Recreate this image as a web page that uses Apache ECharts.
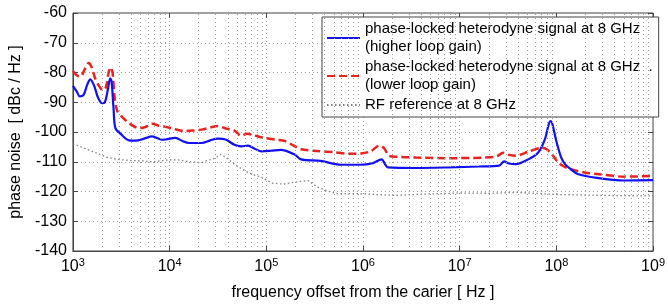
<!DOCTYPE html>
<html>
<head>
<meta charset="utf-8">
<script src="https://cdn.jsdelivr.net/npm/echarts@6/dist/echarts.min.js"></script>
<style>
html,body{margin:0;padding:0;background:#fff;}
#c{width:668px;height:306px;}
</style>
</head>
<body>
<div id="c"></div>
<script>
// ---- data ----
const seriesNames = [
  'phase-locked heterodyne signal at 8 GHz\n(higher loop gain)',
  'phase-locked heterodyne signal at 8 GHz  .\n(lower loop gain)',
  'RF reference at 8 GHz'
];
const yTicks = [-140, -130, -120, -110, -100, -90, -80, -70, -60];
const xDecades = [1e3, 1e4, 1e5, 1e6, 1e7, 1e8, 1e9];

const blueFreq = [1000,1100,1175,1290,1410,1510,1660,1820,2000,2140,2290,2430,2510,2630,2750,3160,3800,4470,5370,6610,8320,11500,13500,15800,21400,26300,31600,38000,46800,55000,64600,75900,89100,112000,141000,195000,229000,363000,589000,933000,1.26e6,1.55e6,1.82e6,3.55e6,7.76e6,1.58e7,2.57e7,2.88e7,3.24e7,3.8e7,5.13e7,6.46e7,7.59e7,8.32e7,8.71e7,9.12e7,1e8,1.12e8,1.23e8,1.41e8,1.66e8,2.63e8,5.01e8,1e9];
const blueVals = [-84.5,-86.5,-88,-87.5,-84,-82.3,-84.5,-88.5,-90.3,-90,-86,-82,-83,-92,-98.7,-100.8,-102.8,-102.9,-102.3,-101.5,-102.6,-102,-103,-103.7,-103.7,-102.8,-102.2,-102.5,-104.3,-104.8,-104.6,-105.6,-106.5,-106.3,-106,-107.5,-109.2,-109.7,-111,-111,-110.5,-109.2,-111.9,-112.1,-111.9,-111.6,-111.3,-109.9,-110.6,-110.8,-109.2,-107,-102.6,-97.5,-96.3,-97.5,-103.1,-108.5,-110.8,-112.5,-114.1,-115.4,-116.3,-116.2];

const redFreq = [1000,1100,1200,1320,1450,1550,1700,1860,2040,2190,2340,2450,2570,2690,2880,3240,3800,4790,5620,6610,7590,8910,11200,14500,17800,21400,26300,31600,38000,46800,55000,63100,75900,95500,126000,155000,190000,229000,339000,501000,708000,955000,1.2e6,1.48e6,1.66e6,1.86e6,2.5e6,3.55e6,7.76e6,1.74e7,2.4e7,2.82e7,3.16e7,3.8e7,5.13e7,7.08e7,7.94e7,8.9e7,1.05e8,1.2e8,1.41e8,1.95e8,2.63e8,5.01e8,1e9];
const redVals = [-79.5,-81,-81.3,-79,-76.8,-78,-82,-84.5,-86,-85,-80,-78.3,-80,-88,-93,-95,-97,-98.7,-98.3,-97.2,-97.8,-98.2,-99,-99.7,-99.5,-99.2,-98.5,-98,-98.8,-99.5,-101.3,-100.6,-101.2,-102,-102.6,-103,-104.5,-105.8,-106.4,-106.8,-107.3,-107.2,-106.5,-104.6,-105.5,-108,-108.4,-108.6,-108.8,-108.6,-108.2,-107,-107.6,-108,-106.6,-105.3,-105.8,-107.3,-110.3,-111.6,-112.5,-113.6,-114.1,-115,-114.8];

const grayFreq = [1000,1050,1320,1740,2240,2880,3980,5250,6610,8320,10500,12300,15800,21400,25100,29500,33900,38000,46800,55000,64600,75900,89100,115000,151000,195000,269000,339000,427000,537000,871000,2.04e6,5.01e6,1e7,2e7,3.98e7,1e8,2e8,5e8,1e9];
const grayVals = [-104,-104.2,-105.5,-107,-108.5,-109.2,-109.6,-109.7,-110,-109.6,-109.3,-109.4,-110,-110.3,-109.5,-108.8,-107.5,-108.5,-110.8,-112.3,-113.6,-114.5,-115.2,-117.2,-117.5,-116.9,-116.3,-118.5,-119.8,-120.7,-120.7,-121.3,-120.8,-120.5,-120.6,-120.3,-121,-121.2,-121.4,-121.5];

const xTitle = 'frequency offset from the carier [ Hz ]';
const yTitle = 'phase noise  [ dBc / Hz ]';

// ---- build ----
const pairs = (f, v) => f.map((x, i) => [x, v[i]]);
const minorFreqs = [];
for (let d = 0; d < xDecades.length - 1; d++) {
  for (let m = 2; m <= 9; m++) minorFreqs.push(m * xDecades[d]);
}
const FONT = 'Arial, "Liberation Sans", sans-serif';
const gridDash = { color: '#9a9a9a', width: 1, type: [1, 3] };

const chart = echarts.init(document.getElementById('c'), null, { renderer: 'canvas' });
chart.setOption({
  animation: false,
  backgroundColor: '#fff',
  textStyle: { fontFamily: FONT, color: '#000' },
  grid: { left: 70, right: 12, top: 13, bottom: 51, show: true, borderColor: '#444', borderWidth: 1, backgroundColor: 'transparent' },
  legend: {
    left: 322, top: 17, orient: 'vertical',
    padding: [3, 6, 3, 4],
    itemWidth: 33, itemHeight: 10, itemGap: 2,
    backgroundColor: '#fff', borderColor: '#444', borderWidth: 1, borderRadius: 0,
    itemStyle: { opacity: 0 },
    textStyle: { fontFamily: FONT, fontSize: 15, color: '#000', lineHeight: 18 },
    data: seriesNames
  },
  xAxis: [{
    type: 'log', logBase: 10, min: xDecades[0], max: xDecades[xDecades.length - 1],
    splitNumber: 6,
    name: xTitle, nameLocation: 'middle', nameGap: 34,
    nameTextStyle: { fontFamily: FONT, fontSize: 16, color: '#000' },
    axisLine: { show: true, lineStyle: { color: '#444', width: 1 } },
    axisTick: { show: true, inside: true, length: 5, lineStyle: { color: '#444' } },
    splitLine: { show: true, lineStyle: gridDash },
    axisLabel: {
      margin: 6, color: '#000',
      formatter: v => '{b|10}{s|' + Math.round(Math.log10(v)) + '}',
      rich: {
        b: { fontFamily: FONT, fontSize: 16, color: '#000' },
        s: { fontFamily: FONT, fontSize: 11, color: '#000', padding: [0, 0, 9, 0] }
      }
    }
  }, {
    type: 'log', logBase: 10, min: xDecades[0], max: xDecades[xDecades.length - 1],
    splitNumber: 6, position: 'top',
    axisLine: { show: false },
    axisTick: { show: true, inside: true, length: 5, lineStyle: { color: '#444' } },
    splitLine: { show: false }, axisLabel: { show: false }
  }],
  yAxis: [{
    type: 'value', min: yTicks[0], max: yTicks[yTicks.length - 1], interval: 10,
    name: yTitle, nameLocation: 'middle', nameGap: 45, nameRotate: 90,
    nameTextStyle: { fontFamily: FONT, fontSize: 16, color: '#000' },
    axisLine: { show: true, lineStyle: { color: '#444', width: 1 } },
    axisTick: { show: true, inside: true, length: 5, lineStyle: { color: '#444' } },
    splitLine: { show: true, lineStyle: gridDash },
    axisLabel: { fontFamily: FONT, fontSize: 16, color: '#000', margin: 6 }
  }, {
    type: 'value', min: yTicks[0], max: yTicks[yTicks.length - 1], interval: 10, position: 'right',
    axisLine: { show: false },
    axisTick: { show: true, inside: true, length: 5, lineStyle: { color: '#444' } },
    splitLine: { show: false }, axisLabel: { show: false }
  }],
  series: [
    {
      name: seriesNames[2], type: 'line', data: pairs(grayFreq, grayVals),
      symbol: 'none', z: 2,
      lineStyle: { color: '#808080', width: 1.3, type: [1.5, 2.5] },
      itemStyle: { color: '#808080' },
      markLine: {
        silent: true, symbol: ['none', 'none'], label: { show: false },
        lineStyle: { color: '#9a9a9a', width: 1, type: [1, 3] },
        emphasis: { disabled: true },
        data: minorFreqs.map(f => ({ xAxis: f }))
      }
    },
    {
      name: seriesNames[1], type: 'line', data: pairs(redFreq, redVals),
      symbol: 'none', z: 3, smooth: 0.3,
      lineStyle: { color: '#e8221c', width: 2.5, type: [8, 4] },
      itemStyle: { color: '#e8221c' }
    },
    {
      name: seriesNames[0], type: 'line', data: pairs(blueFreq, blueVals),
      symbol: 'none', z: 4, smooth: 0.3,
      lineStyle: { color: '#1010f0', width: 2.2 },
      itemStyle: { color: '#1010f0' }
    }
  ]
});
</script>
</body>
</html>
